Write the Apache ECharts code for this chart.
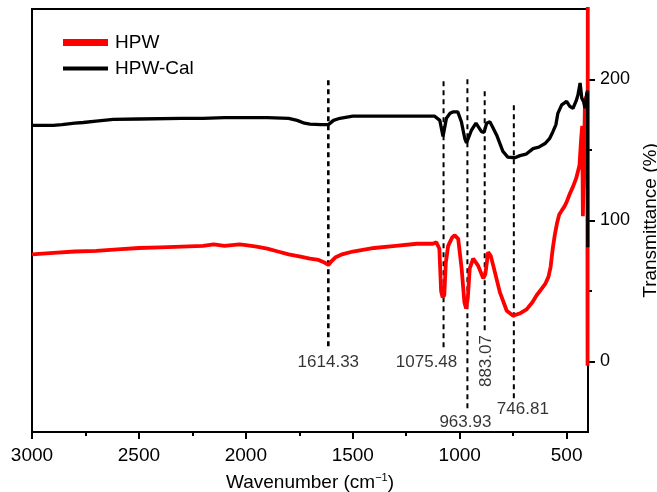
<!DOCTYPE html>
<html><head><meta charset="utf-8">
<script src="https://cdn.jsdelivr.net/npm/echarts@6/dist/echarts.min.js"></script>
<style>html,body{margin:0;padding:0;background:#fff}#c{width:657px;height:492px}</style>
</head><body><div id="c"></div>
<script>
// ---- Data ----
const wavenumberHPW = [3000,2900,2800,2700,2600,2500,2400,2300,2200,2150,2100,2030,2000,1950,1900,1850,1800,1750,1700,1660,1630,1614,1600,1580,1550,1500,1400,1300,1200,1126,1109,1095,1087,1080,1072,1065,1054,1035,1023,1007,991,978,970,962,953,937,914,890,880,867,855,843,812,780,750,720,687,660,640,620,600,585,575,565,555,545,535,523,510,500,485,470,455,440,432,427,424,418,414,406,403,402,401];
const transmittanceHPW = [76,77,78,78.5,79.5,80.5,81,81.5,82,83,82,83,82.5,81.5,80,78,76,74.5,73,72,70,68.5,71,74,76,78,80.5,82,83.5,83.5,84.5,80,50,45.5,47,70,82,88,89.5,87,66,42,37.5,45,66,73,68,59,62,77.5,75,68,49,36,32.5,34,37,42,47,51,55,60,67,80,90,98,104,107,110,113,119,124,130,139,158,167,103,150,186,188,170,-3,262];
const wavenumberCal = [3000,2900,2860,2800,2760,2700,2620,2500,2300,2200,2100,2000,1900,1800,1760,1726,1700,1650,1614,1590,1560,1500,1400,1300,1200,1117,1093,1078,1070,1062,1045,1032,1009,992,976,968,960,945,924,898,886,874,859,845,827,798,775,742,718,690,657,630,601,580,564,550,541,523,500,485,470,455,447,437,429,420,414,406,402,401];
const transmittanceCal = [167.5,167.5,168,169,169.5,170.5,171.7,172,172.5,172.5,173,173,173,172.5,171,169,168.3,168,168,171,172.5,174,174,174,174,174,171,159.6,166,172.5,176,177,177,170,158,155,156,164,169,163,162.5,169,170,166,160.5,149,145,144.5,146,147,151,152,154.6,158,163,168,176,182,184.5,181,179.6,185,189,197.5,186.7,184,179.6,190,192,81];
const peakWavenumbers = [1614.33, 1075.48, 963.93, 883.07, 746.81];
const peakLabels = ['1614.33', '1075.48', '963.93', '883.07', '746.81'];
const peakLineTop = [199.5, 198.8, 200.2, 191.7, 181.7];
const peakLineBottom = [8.8, 7.3, -36, 21.6, -26.8];
const xTickLabels = [3000, 2500, 2000, 1500, 1000, 500];
const xMinorTicks = [2750, 2250, 1750, 1250, 750];
const yTickLabels = [0, 100, 200];
const yMinorTicks = [50, 150];

// ---- Styling ----
const FONT = "'Liberation Sans', Arial, Helvetica, sans-serif";
const peakLabelStyle = [
  {offset: [0, 13]},
  {offset: [-17, 11]},
  {offset: [-2, 10]},
  {offset: [-30, 2], rotate: 90},
  {offset: [9, 10]}
];
const peakLineWidth = [2.6, 2, 2, 2, 2];

const zip = (a, b) => a.map((v, i) => [v, b[i]]);

const series = [
  {
    name: 'HPW', type: 'line', data: zip(wavenumberHPW, transmittanceHPW),
    showSymbol: false, symbol: 'none', color: '#ff0000',
    lineStyle: {width: 3.8, color: '#ff0000'}, z: 3, animation: false
  },
  {
    name: 'HPW-Cal', type: 'line', data: zip(wavenumberCal, transmittanceCal),
    showSymbol: false, symbol: 'none', color: '#000000',
    lineStyle: {width: 3.3, color: '#000000'}, z: 4, animation: false
  }
];
peakWavenumbers.forEach((w, i) => {
  series.push({
    name: 'peak' + i, type: 'line', data: [[w, peakLineTop[i]], [w, peakLineBottom[i]]],
    symbol: 'none', lineStyle: {color: '#000', width: peakLineWidth[i], type: [5, 4]},
    z: 2, animation: false, silent: true
  });
  series.push({
    name: 'peakLabel' + i, type: 'scatter', data: [[w, peakLineBottom[i]]],
    symbolSize: 0, animation: false, silent: true, z: 5,
    label: {
      show: true, position: 'inside', formatter: peakLabels[i],
      offset: peakLabelStyle[i].offset, rotate: peakLabelStyle[i].rotate || 0,
      fontFamily: FONT, fontSize: 17, color: '#000', align: 'center', verticalAlign: 'middle'
    }
  });
});

const chart = echarts.init(document.getElementById('c'), null, {renderer: 'canvas'});
chart.setOption({
  animation: false,
  backgroundColor: '#fff',
  grid: {left: 32, right: 69, top: 9, bottom: 60, show: true, borderColor: '#000', borderWidth: 2,
         containLabel: false, outerBoundsMode: 'none'},
  legend: [
    {data: ['HPW'], orient: 'vertical', left: 63, top: 33, padding: 0, icon: 'rect', itemWidth: 45, itemHeight: 7,
     itemGap: 0, textStyle: {fontFamily: FONT, fontSize: 19, color: '#000', padding: [0, 0, 0, 2]}, selectedMode: false},
    {data: ['HPW-Cal'], orient: 'vertical', left: 63, top: 59, padding: 0, icon: 'rect', itemWidth: 45, itemHeight: 4,
     itemGap: 0, textStyle: {fontFamily: FONT, fontSize: 19, color: '#000', padding: [0, 0, 0, 2]}, selectedMode: false}
  ],
  xAxis: [
    {
      type: 'value', inverse: true, min: 400, max: 3000, position: 'bottom',
      name: 'Wavenumber (cm{sup|−1})', nameLocation: 'middle', nameGap: 40,
      nameTextStyle: {fontFamily: FONT, fontSize: 19, color: '#000',
        rich: {sup: {fontFamily: FONT, fontSize: 11, verticalAlign: 'top', padding: [0, 0, 10, 0], color: '#000'}}},
      axisLine: {show: true, onZero: false, lineStyle: {color: '#000', width: 2}},
      axisTick: {show: true, customValues: xTickLabels, length: 7, lineStyle: {color: '#000', width: 2}},
      axisLabel: {show: true, customValues: xTickLabels, margin: 14, fontFamily: FONT, fontSize: 19, color: '#000',
                  formatter: v => String(v)},
      splitLine: {show: false}
    },
    {
      type: 'value', inverse: true, min: 400, max: 3000, position: 'bottom',
      axisLine: {show: false, onZero: false},
      axisTick: {show: true, customValues: xMinorTicks, length: 4, lineStyle: {color: '#000', width: 2}},
      axisLabel: {show: false}, splitLine: {show: false}
    }
  ],
  yAxis: [
    {
      type: 'value', min: -50, max: 250, position: 'right',
      name: 'Transmittance (%)', nameLocation: 'middle', nameGap: 49, nameRotate: 90,
      nameTextStyle: {fontFamily: FONT, fontSize: 19, color: '#000'},
      axisLine: {show: true, onZero: false, lineStyle: {color: '#000', width: 2}},
      axisTick: {show: true, customValues: yTickLabels, length: 7, lineStyle: {color: '#000', width: 2}},
      axisLabel: {show: true, customValues: yTickLabels, margin: 12, fontFamily: FONT, fontSize: 18, color: '#000',
                  formatter: v => String(v)},
      splitLine: {show: false}
    },
    {
      type: 'value', min: -50, max: 250, position: 'right',
      axisLine: {show: false, onZero: false},
      axisTick: {show: true, customValues: yMinorTicks, length: 4, lineStyle: {color: '#000', width: 2}},
      axisLabel: {show: false}, splitLine: {show: false}
    }
  ],
  series: series
});
</script></body></html>
